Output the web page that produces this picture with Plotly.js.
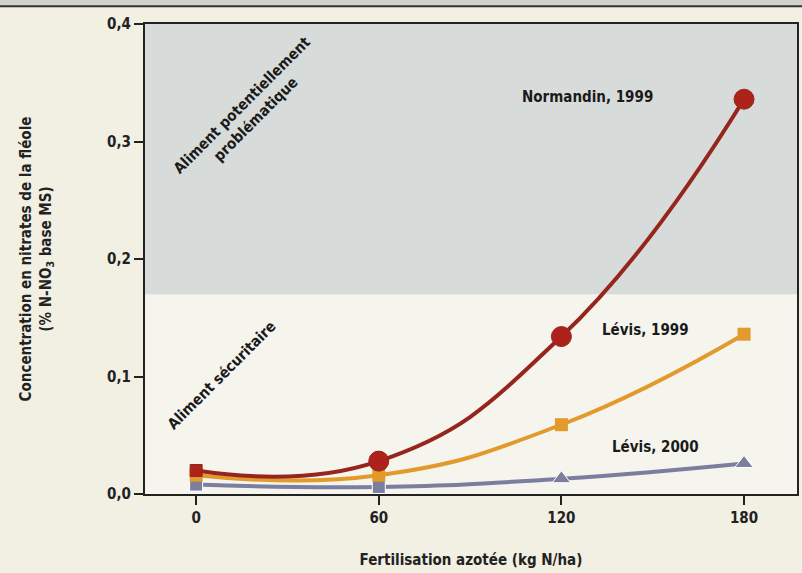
<!DOCTYPE html>
<html>
<head>
<meta charset="utf-8">
<script src="https://cdn.plot.ly/plotly-3.0.1.min.js"></script>
<style>html,body{margin:0;padding:0;background:#f1f0e3;}#chart{width:802px;height:573px;}</style>
</head>
<body>
<div id="chart"></div>
<script>
const fertilisation = [0, 60, 120, 180];
const normandin1999 = [0.020, 0.028, 0.134, 0.336];
const levis1999 = [0.016, 0.016, 0.059, 0.136];
const levis2000 = [0.008, 0.006, 0.013, 0.026];
const xTicks = [0, 60, 120, 180];
const yTicks = [0, 0.1, 0.2, 0.3, 0.4];
const seuil = 0.17;

const FONT = '"Liberation Sans Narrow", "DejaVu Sans Condensed", Arial Narrow, sans-serif';

const traces = [
  {x: fertilisation, y: levis2000, mode: 'lines+markers', line: {shape: 'spline', smoothing: 1.3, color: '#7b7e9f', width: 4},
   marker: {symbol: ['square','square','triangle-up','triangle-up'], size: [13,13,16,16], color: '#7b7e9f', opacity: 1}},
  {x: fertilisation, y: levis1999, mode: 'lines+markers', line: {shape: 'spline', smoothing: 1.3, color: '#e29a2c', width: 4},
   marker: {symbol: 'square', size: 13, color: '#e29a2c', opacity: 1}},
  {x: fertilisation, y: normandin1999, mode: 'lines+markers', line: {shape: 'spline', smoothing: 1.3, color: '#96261d', width: 4},
   marker: {symbol: ['square','circle','circle','circle'], size: [12,20,20,20], color: '#ad221b', opacity: 1}}
];

const layout = {
  width: 802, height: 573,
  margin: {l: 145, r: 5, t: 24, b: 79},
  paper_bgcolor: '#f1f0e3',
  plot_bgcolor: '#f5f5ee',
  showlegend: false,
  separators: ', ',
  font: {family: FONT, color: '#222', size: 14},
  xaxis: {
    range: [-16.8, 197.4], tickvals: xTicks, ticks: 'outside', ticklen: 9, tickwidth: 2, tickcolor: '#222',
    showgrid: false, zeroline: false, showline: true, linecolor: '#222', linewidth: 2, mirror: true,
    tickfont: {family: FONT, size: 15, color: '#222', weight: 'bold'},
    title: {text: '<b>Fertilisation azotée (kg N/ha)</b>', font: {family: FONT, size: 15, color: '#222'}, standoff: 28}
  },
  yaxis: {
    range: [0, 0.4], tickvals: yTicks, tickformat: '.1f', ticks: 'outside', ticklen: 9, tickwidth: 2, tickcolor: '#222',
    showgrid: false, zeroline: false, showline: true, linecolor: '#222', linewidth: 2, mirror: true,
    tickfont: {family: FONT, size: 15, color: '#222', weight: 'bold'},
    title: {text: '<b>Concentration en nitrates de la fléole<br>(% N-NO<sub>3</sub> base MS)</b>', font: {family: FONT, size: 15, color: '#222'}, standoff: 52}
  },
  shapes: [
    {type: 'rect', xref: 'paper', yref: 'y', x0: 0, x1: 1, y0: seuil, y1: 0.4, fillcolor: '#d7dbd9', line: {width: 0}, layer: 'below'},
    {type: 'rect', xref: 'paper', yref: 'paper', x0: -0.3, x1: 1.05, y0: 1.039, y1: 1.06, fillcolor: '#cfd2cd', line: {width: 0}},
    {type: 'line', xref: 'paper', yref: 'paper', x0: -0.3, x1: 1.05, y0: 1.038, y1: 1.038, line: {color: '#333', width: 2}}
  ],
  annotations: [
    {x: 128.5, y: 0.338, text: '<b>Normandin, 1999</b>', showarrow: false, font: {family: FONT, size: 15, color: '#1a1a1a'}},
    {x: 147.5, y: 0.140, text: '<b>Lévis, 1999</b>', showarrow: false, font: {family: FONT, size: 15, color: '#1a1a1a'}},
    {x: 150.8, y: 0.040, text: '<b>Lévis, 2000</b>', showarrow: false, font: {family: FONT, size: 15, color: '#1a1a1a'}},
    {x: 17.5, y: 0.325, text: '<b>Aliment potentiellement<br>problématique</b>', showarrow: false, textangle: -45, font: {family: FONT, size: 15, color: '#1a1a1a'}},
    {x: 8.5, y: 0.101, text: '<b>Aliment sécuritaire</b>', showarrow: false, textangle: -45, font: {family: FONT, size: 15, color: '#1a1a1a'}}
  ]
};

Plotly.newPlot('chart', traces, layout, {displayModeBar: false, staticPlot: true});
</script>
</body>
</html>
